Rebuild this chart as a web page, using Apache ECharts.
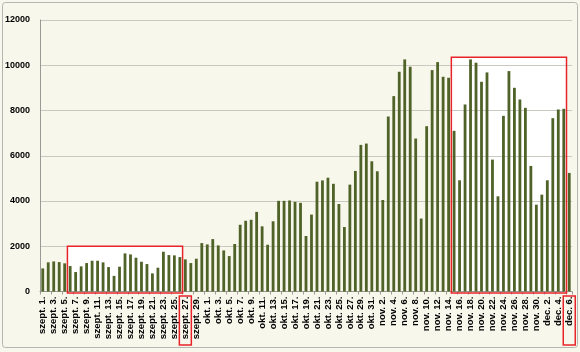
<!DOCTYPE html>
<html lang="hu">
<head>
<meta charset="UTF-8">
<title>Napi értékek</title>
<script src="https://cdn.jsdelivr.net/npm/echarts@6/dist/echarts.min.js"></script>
<style>
	html, body { margin: 0; padding: 0; background: #eeeeea; }
	#chart { width: 580px; height: 352px; }
</style>
</head>
<body>
<div id="chart"></div>
<script>
	// hónapok és napok száma (szept. 1. - dec. 6.)
	var months = ['szept.', 'okt.', 'nov.', 'dec.'];
	var monthDays = [30, 31, 30, 6];

	var categories = [];
	for (var m = 0; m < months.length; m++) {
		for (var d = 1; d <= monthDays[m]; d++) {
			categories.push(months[m] + ' ' + d + '.');
		}
	}

	// napi értékek
	var values = [
		1020, 1290, 1330, 1300, 1245, 1125, 860, 1110, 1257, 1360,
		1360, 1287, 1080, 690, 1096, 1684, 1640, 1493, 1316, 1213,
		801, 1051, 1757, 1610, 1596, 1522, 1419, 1257, 1449, 2140,
		2081, 2316, 2037, 1816, 1566, 2100, 2950, 3126, 3170, 3519,
		2881, 2067, 3104, 4007, 4007, 4022, 3963, 3919, 2452, 3400,
		4852, 4911, 5030, 4760, 3867, 2849, 4723, 5328, 6480, 6539,
		5756, 5314, 4044, 7734, 8635, 9712, 10258, 9934, 6760, 3225,
		7306, 9786, 10140, 9491, 9446, 7100, 4915, 8266, 10258, 10111,
		9269, 9683, 5830, 4207, 7764, 9742, 9004, 8487, 8118, 5550,
		3838, 4280, 4915, 7661, 8044, 8074, 5240
	];

	// kiemelt tartományok (kategória index, felső érték)
	var highlightRanges = [
		{from: 5, to: 25, top: 2000},
		{from: 75, to: 95, top: 10350}
	];
	var highlightLabels = [26, 96];

	var chart = echarts.init(document.getElementById('chart'));
	chart.setOption({
		backgroundColor: '#f8f7ec',
		animation: false,
		grid: {left: 40, right: 8, top: 20, bottom: 60.5},
		xAxis: {
			type: 'category',
			data: categories,
			axisLine: {lineStyle: {color: '#9a9a94'}},
			axisTick: {show: true, alignWithLabel: false, length: 3, lineStyle: {color: '#9a9a94'}},
			axisLabel: {
				interval: 1,
				rotate: 90,
				margin: 5,
				fontSize: 9.5,
				fontWeight: 'bold',
				fontFamily: 'Liberation Sans, Arial, sans-serif',
				color: '#000'
			}
		},
		yAxis: {
			type: 'value',
			min: 0,
			max: 12000,
			interval: 2000,
			axisLine: {show: true, lineStyle: {color: '#9a9a94'}},
			axisTick: {show: false},
			splitLine: {lineStyle: {color: '#c9c9c1'}},
			axisLabel: {
				margin: 10,
				fontSize: 9,
				fontWeight: 'bold',
				fontFamily: 'Liberation Sans, Arial, sans-serif',
				color: '#000',
				formatter: function (v) { return String(v); }
			}
		},
		series: [{
			type: 'bar',
			data: values,
			barWidth: 2.8,
			itemStyle: {color: '#4f6228'}
		}]
	});

	// piros keretek
	var bw = chart.getModel().getComponent('xAxis', 0).axis.getBandWidth();
	var zero = chart.convertToPixel({yAxisIndex: 0}, 0);
	var graphics = [];
	highlightRanges.forEach(function (r) {
		var x0 = chart.convertToPixel({xAxisIndex: 0}, r.from) - bw / 2;
		var x1 = chart.convertToPixel({xAxisIndex: 0}, r.to) + bw / 2;
		var y0 = chart.convertToPixel({yAxisIndex: 0}, r.top);
		graphics.push({
			type: 'rect', z: -10, silent: true,
			shape: {x: x0, y: y0, width: x1 - x0, height: zero + 1.5 - y0},
			style: {fill: '#ffffff', stroke: null}
		});
		graphics.push({
			type: 'rect', z: 100, silent: true,
			shape: {x: x0, y: y0, width: x1 - x0, height: zero + 1.5 - y0},
			style: {fill: null, stroke: '#e8242a', lineWidth: 1.5}
		});
	});
	highlightLabels.forEach(function (i) {
		var cx = chart.convertToPixel({xAxisIndex: 0}, i);
		graphics.push({
			type: 'rect', z: 100, silent: true,
			shape: {x: cx - 6, y: zero + 4.5, width: 12, height: 49},
			style: {fill: null, stroke: '#e8242a', lineWidth: 1.5}
		});
	});
	// keret a diagram körül
	graphics.push({
		type: 'rect', z: 100, silent: true,
		shape: {x: 2.5, y: 2.5, width: 575, height: 345, r: 3},
		style: {fill: null, stroke: '#b4b4b0', lineWidth: 1}
	});
	chart.setOption({graphic: graphics});
</script>
</body>
</html>
